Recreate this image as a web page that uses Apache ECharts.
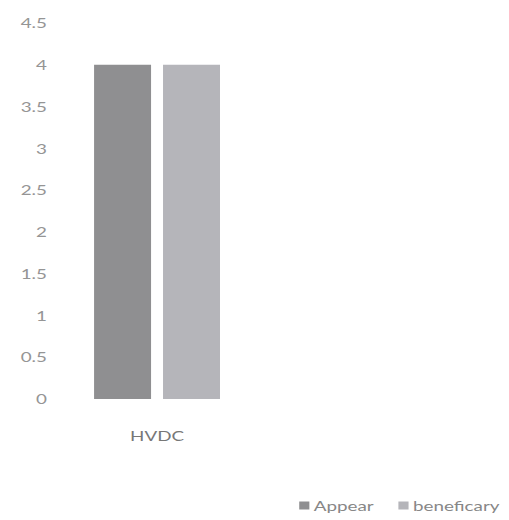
<!DOCTYPE html>
<html>
<head>
<meta charset="utf-8">
<script src="https://cdn.jsdelivr.net/npm/echarts@6/dist/echarts.min.js"></script>
<style>
  html, body { margin: 0; padding: 0; background: #ffffff; overflow: hidden; }
  /* The chart is laid out narrow and widened horizontally, giving the wide lettering */
  #chart { width: 351px; height: 520px; transform: scaleX(1.45); transform-origin: 0 0; }
</style>
</head>
<body>
<div id="chart"></div>
<script>
// Categories and series values
var categories = ['HVDC'];
var appearValues = [4];
var beneficaryValues = [4];
var seriesNames = ['Appear', 'beneficary'];

// Value axis range
var yMin = 0;
var yMax = 4.5;
var yStep = 0.5;

var chart = echarts.init(document.getElementById('chart'), null, { renderer: 'svg' });

chart.setOption({
  backgroundColor: '#ffffff',
  animation: false,
  textStyle: { fontFamily: 'Lato, "Liberation Sans", sans-serif' },
  grid: { left: 41.4, right: 175.8, top: 23, bottom: 121, containLabel: false },
  legend: {
    data: seriesNames,
    right: 1.5,
    bottom: 3,
    icon: 'rect',
    itemWidth: 7,
    itemHeight: 8,
    itemGap: 17,
    textStyle: { color: '#878787', fontSize: 13, padding: [0, 0, 0, -2] }
  },
  xAxis: {
    type: 'category',
    data: categories,
    axisLine: { show: false },
    axisTick: { show: false },
    axisLabel: { color: '#777777', fontSize: 13, margin: 30 }
  },
  yAxis: {
    type: 'value',
    min: yMin,
    max: yMax,
    interval: yStep,
    axisLine: { show: false },
    axisTick: { show: false },
    splitLine: { show: false },
    axisLabel: { color: '#959595', fontSize: 13, margin: 9 }
  },
  series: [
    {
      name: seriesNames[0],
      type: 'bar',
      data: appearValues,
      barWidth: 39.3,
      barGap: '21%',
      itemStyle: { color: '#8f8f91' }
    },
    {
      name: seriesNames[1],
      type: 'bar',
      data: beneficaryValues,
      barWidth: 39.3,
      itemStyle: { color: '#b5b5ba' }
    }
  ]
});
</script>
</body>
</html>
